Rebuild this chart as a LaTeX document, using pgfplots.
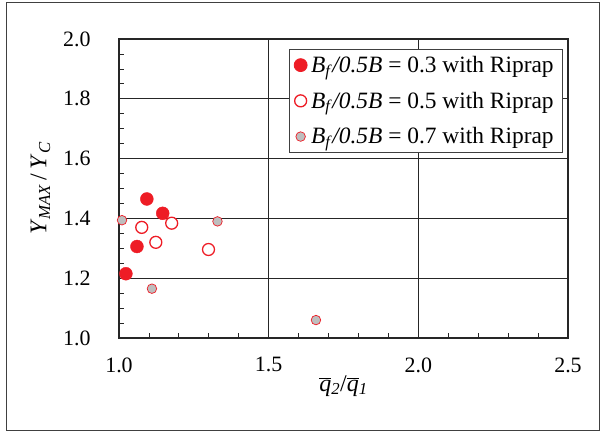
\documentclass[border=0pt]{standalone}
\usepackage{fontspec}
\setmainfont{Liberation Serif}
\usepackage{pgfplots}
\pgfplotsset{compat=1.18}
\definecolor{rred}{HTML}{EE1C25}
\definecolor{rgray}{HTML}{BEBEBE}
\newcommand{\tickf}{\fontsize{22}{26}\selectfont}
\newcommand{\legf}{\fontsize{23.5}{28}\selectfont}
\newcommand{\labf}{\fontsize{24}{28}\selectfont}
\begin{document}
\begin{tikzpicture}[x=1bp,y=1bp]
% picture frame
\path (-119,-94) rectangle (482,338);
\draw[line width=1pt, black!75] (-113,-92) rectangle (480,335.5);
\begin{axis}[
    at={(0,0)}, anchor=south west,
    scale only axis,
    width=449bp, height=299bp,
    xmin=1, xmax=2.5, ymin=1, ymax=2,
    xtick={1,1.5,2,2.5}, ytick={1,1.2,1.4,1.6,1.8,2},
    minor x tick num=4, minor y tick num=3,
    tick pos=left, tick align=inside,
    major tick length=0pt, minor tick length=5bp,
    grid=major,
    major grid style={black!85, line width=0.8pt},
    axis line style={black!85, line width=1.3pt},
    every tick/.style={black!85, line width=0.8pt},
    ticklabel style={font=\tickf},
    /pgf/number format/.cd, fixed, fixed zerofill, precision=1, assume math mode=true,
    /pgfplots/.cd,
    xticklabel style={yshift=-16bp},
    yticklabel style={xshift=-25bp},
    xlabel={$\overline{\mbox{\textit{q}}}$\textsubscript{\textit{2}}/$\overline{\mbox{\textit{q}}}$\textsubscript{\textit{1}}},
    xlabel style={font=\labf, yshift=4bp},
    ylabel={\textit{Y}\textsubscript{\textit{MAX}}\,/\,\textit{Y}\textsubscript{\textit{C}}},
    ylabel style={font=\labf, yshift=6bp},
    legend style={at={(0.989,0.967)}, anchor=north east, draw=black!75, line width=0.8pt,
        font=\legf, row sep=14bp, inner xsep=5bp, inner ysep=5bp,
        nodes={inner xsep=4bp}},
    legend cell align=left,
]
\addplot[only marks, mark=*, mark size=6.5, mark options={fill=rred, draw=rred}] coordinates {
    (1.023,1.215) (1.060,1.306) (1.093,1.465) (1.146,1.417)
};
\addplot[only marks, mark=*, mark size=6, mark options={fill=white, draw=rred, line width=1.3pt}] coordinates {
    (1.076,1.370) (1.123,1.320) (1.176,1.384) (1.299,1.296)
};
\addplot[only marks, mark=*, mark size=4.8, mark options={fill=rgray, draw=rred, line width=0.7pt}] coordinates {
    (1.010,1.394) (1.110,1.165) (1.329,1.390) (1.658,1.060)
};
\legend{\textit{B}\textsubscript{\textit{f}}\textit{/0.5B} = 0.3 with Riprap,
        \textit{B}\textsubscript{\textit{f}}\textit{/0.5B} = 0.5 with Riprap,
        \textit{B}\textsubscript{\textit{f}}\textit{/0.5B} = 0.7 with Riprap}
\end{axis}
\end{tikzpicture}
\end{document}
